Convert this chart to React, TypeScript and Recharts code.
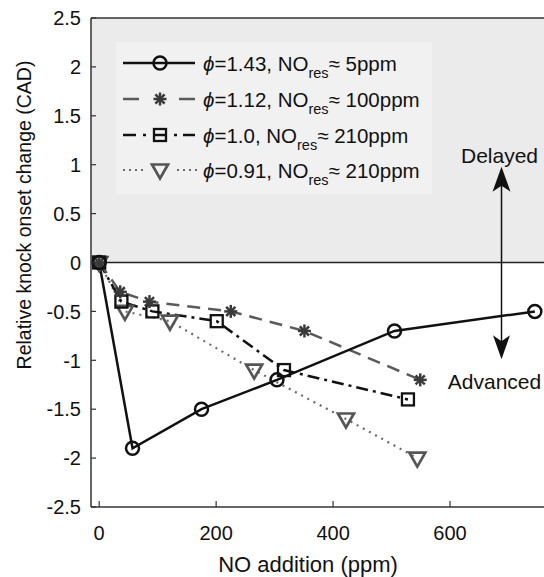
import React from 'react';
import {
  ComposedChart,
  Line,
  XAxis,
  YAxis,
  ReferenceArea,
  ReferenceLine,
  ReferenceDot,
  Legend,
} from 'recharts';

// ---------- data ----------
const s1X = [0, 57, 175, 304, 505, 745];
const s1Y = [0, -1.9, -1.5, -1.2, -0.7, -0.5];
const s2X = [0, 36, 86, 225, 351, 549];
const s2Y = [0, -0.3, -0.4, -0.5, -0.7, -1.2];
const s3X = [0, 38, 91, 201, 316, 528];
const s3Y = [0, -0.4, -0.5, -0.6, -1.1, -1.4];
const s4X = [0, 44, 121, 265, 422, 544];
const s4Y = [0, -0.5, -0.6, -1.1, -1.6, -2.0];

const seriesPhi = ['=1.43, NO', '=1.12, NO', '=1.0, NO', '=0.91, NO'];
const seriesRes = ['\u2248 5ppm', '\u2248 100ppm', '\u2248 210ppm', '\u2248 210ppm'];

const xTicks = [0, 200, 400, 600];
const yTicks = [-2.5, -2, -1.5, -1, -0.5, 0, 0.5, 1, 1.5, 2, 2.5];
const xDomain = [-14, 800];
const yDomain = [-2.5, 2.5];

const arrowX = 688;
const upTip = 0.98;
const upBase = 0.8;
const downTip = -0.99;
const downBase = -0.82;

const toPts = (xs: number[], ys: number[]) => xs.map((x, i) => ({ x, y: ys[i] }));
const d1 = toPts(s1X, s1Y);
const d2 = toPts(s2X, s2Y);
const d3 = toPts(s3X, s3Y);
const d4 = toPts(s4X, s4Y);

const FONT = '"Liberation Sans", Arial, Helvetica, sans-serif';
const C1 = '#111';
const C2 = '#5a5a5a';
const C2M = '#3a3a3a';
const C3 = '#111';
const C4 = '#6a6a6a';
const C4M = '#555';

// ---------- markers ----------
const circleMark = (cx: number, cy: number, key?: any) => (
  <circle key={key} cx={cx} cy={cy} r={6.5} fill="none" stroke={C1} strokeWidth={2.5} />
);
const starMark = (cx: number, cy: number, key?: any) => {
  const r = 6.5;
  const a = r * Math.SQRT1_2;
  return (
    <g key={key} stroke={C2M} strokeWidth={2.5}>
      <line x1={cx - r} y1={cy} x2={cx + r} y2={cy} />
      <line x1={cx} y1={cy - r} x2={cx} y2={cy + r} />
      <line x1={cx - a} y1={cy - a} x2={cx + a} y2={cy + a} />
      <line x1={cx - a} y1={cy + a} x2={cx + a} y2={cy - a} />
    </g>
  );
};
const squareMark = (cx: number, cy: number, key?: any) => (
  <rect key={key} x={cx - 6} y={cy - 6} width={12} height={12} fill="none" stroke={C3} strokeWidth={2.3} />
);
const triMark = (cx: number, cy: number, key?: any) => (
  <polygon
    key={key}
    points={`${cx - 8},${cy - 5.5} ${cx + 8},${cy - 5.5} ${cx},${cy + 8.5}`}
    fill="none"
    stroke={C4M}
    strokeWidth={2.7}
    strokeLinejoin="miter"
  />
);

const dotFn = (mk: (cx: number, cy: number, key?: any) => any) => (p: any) =>
  mk(p.cx, p.cy, `m-${p.index}`);

// ---------- ticks ----------
const XTick = (p: any) => {
  const { x, y, payload } = p;
  return (
    <g>
      <line x1={x} x2={x} y1={y} y2={y - 6} stroke="#333" strokeWidth={1.2} />
      <text x={x} y={y + 33} textAnchor="middle" fontSize={20} fontFamily={FONT} fill="#111">
        {payload.value}
      </text>
    </g>
  );
};
const YTick = (p: any) => {
  const { x, y, payload } = p;
  return (
    <g>
      <line x1={x} x2={x + 5} y1={y} y2={y} stroke="#333" strokeWidth={1.2} />
      <text x={x - 10} y={y} dy="0.36em" textAnchor="end" fontSize={20} fontFamily={FONT} fill="#111">
        {String(payload.value)}
      </text>
    </g>
  );
};

// ---------- legend ----------
const LegendBox = () => {
  const rows = [21, 57, 93, 128];
  const mx = 44;
  const tx = 87;
  const markers = [circleMark, starMark, squareMark, triMark];
  const lineParts = [
    <line key="l1" x1={7} x2={79} y1={rows[0]} y2={rows[0]} stroke={C1} strokeWidth={2.5} />,
    <g key="l2" stroke={C2} strokeWidth={2.5}>
      <line x1={7} x2={23} y1={rows[1]} y2={rows[1]} />
      <line x1={63} x2={79} y1={rows[1]} y2={rows[1]} />
    </g>,
    <g key="l3" stroke={C3} strokeWidth={2.5}>
      <line x1={7} x2={20} y1={rows[2]} y2={rows[2]} />
      <line x1={27} x2={30} y1={rows[2]} y2={rows[2]} />
      <line x1={58} x2={61} y1={rows[2]} y2={rows[2]} />
      <line x1={67} x2={79} y1={rows[2]} y2={rows[2]} />
      <line x1={38} x2={50} y1={rows[2]} y2={rows[2]} />
    </g>,
    <g key="l4" stroke={C4} strokeWidth={2}>
      {[8, 14, 20, 26, 62, 68, 74, 80].map((d) => (
        <line key={d} x1={d - 1} x2={d + 1} y1={rows[3]} y2={rows[3]} />
      ))}
    </g>,
  ];
  return (
    <svg width={316} height={152} style={{ display: 'block' }}>
      <rect x={0} y={0} width={316} height={152} fill="#f1f1f1" />
      {lineParts}
      {rows.map((ry, i) => markers[i](mx, ry, `lm${i}`))}
      {rows.map((ry, i) => (
        <text key={`t${i}`} x={tx} y={ry + 8} fontSize={20.5} fontFamily={FONT} fill="#111">
          <tspan fontStyle="italic">{'\u03D5'}</tspan>
          <tspan>{seriesPhi[i]}</tspan>
          <tspan fontSize={14.5} dy={7}>res</tspan>
          <tspan dy={-7}>{seriesRes[i]}</tspan>
        </text>
      ))}
    </svg>
  );
};

// ---------- arrows ----------
const upHead = (p: any) => {
  const { cx, cy } = p;
  return (
    <g>
      <polygon
        points={`${cx},${cy} ${cx + 9},${cy + 25} ${cx},${cy + 19} ${cx - 9},${cy + 25}`}
        fill="#111"
      />
      <text x={cx - 2} y={cy - 4} textAnchor="middle" fontSize={21} fontFamily={FONT} fill="#111">
        Delayed
      </text>
    </g>
  );
};
const downHead = (p: any) => {
  const { cx, cy } = p;
  return (
    <g>
      <polygon
        points={`${cx},${cy} ${cx + 8.5},${cy - 24} ${cx},${cy - 18} ${cx - 8.5},${cy - 24}`}
        fill="#111"
      />
      <text x={cx - 7} y={cy + 30} textAnchor="middle" fontSize={21} fontFamily={FONT} fill="#111">
        Advanced
      </text>
    </g>
  );
};

export default function App() {
  return (
    <div
      style={{
        position: 'absolute',
        left: 0,
        top: 0,
        width: 544,
        height: 577,
        overflow: 'hidden',
        background: '#fff',
      }}
    >
      <ComposedChart width={600} height={577} margin={{ top: 18, right: 33, left: 0, bottom: 30 }}>
        <XAxis
          type="number"
          dataKey="x"
          domain={xDomain}
          ticks={xTicks}
          allowDataOverflow
          height={40}
          tickSize={0}
          tickMargin={0}
          tickLine={false}
          axisLine={{ stroke: '#333', strokeWidth: 1.5 }}
          tick={XTick}
          label={{
            value: 'NO addition (ppm)',
            content: () => (
              <text x={308} y={572} textAnchor="middle" fontSize={22} fontFamily={FONT} fill="#111">
                NO addition (ppm)
              </text>
            ),
          }}
        />
        <YAxis
          type="number"
          dataKey="y"
          domain={yDomain}
          ticks={yTicks}
          allowDataOverflow
          width={91}
          tickSize={0}
          tickMargin={0}
          tickLine={false}
          axisLine={{ stroke: '#333', strokeWidth: 1.5 }}
          tick={YTick}
          label={{
            value: 'Relative knock onset change (CAD)',
            content: () => (
              <text
                x={0}
                y={0}
                transform="translate(31,215) rotate(-90)"
                textAnchor="middle"
                fontSize={19.5}
                fontFamily={FONT}
                fill="#111"
              >
                Relative knock onset change (CAD)
              </text>
            ),
          }}
        />
        <ReferenceArea
          x1={xDomain[0]}
          x2={xDomain[1]}
          y1={0}
          y2={yDomain[1]}
          fill="#ebebeb"
          fillOpacity={1}
          stroke="none"
        />
        <ReferenceLine y={yDomain[1]} stroke="#333" strokeWidth={1.5} />
        <ReferenceLine y={0} stroke="#222" strokeWidth={1.5} />
        <ReferenceLine
          segment={[
            { x: arrowX, y: 0 },
            { x: arrowX, y: upBase },
          ]}
          stroke="#111"
          strokeWidth={1.5}
        />
        <ReferenceLine
          segment={[
            { x: arrowX, y: 0 },
            { x: arrowX, y: downBase },
          ]}
          stroke="#111"
          strokeWidth={1.5}
        />
        <ReferenceDot x={arrowX} y={upTip} r={1} shape={upHead} />
        <ReferenceDot x={arrowX} y={downTip} r={1} shape={downHead} />
        <Line
          data={d4}
          dataKey="y"
          type="linear"
          stroke={C4}
          strokeWidth={2.2}
          strokeDasharray="2 5"
          dot={dotFn(triMark)}
          activeDot={false}
          isAnimationActive={false}
        />
        <Line
          data={d3}
          dataKey="y"
          type="linear"
          stroke={C3}
          strokeWidth={2.5}
          strokeDasharray="12 5 3 5"
          dot={dotFn(squareMark)}
          activeDot={false}
          isAnimationActive={false}
        />
        <Line
          data={d2}
          dataKey="y"
          type="linear"
          stroke={C2}
          strokeWidth={2.5}
          strokeDasharray="13 8"
          dot={dotFn(starMark)}
          activeDot={false}
          isAnimationActive={false}
        />
        <Line
          data={d1}
          dataKey="y"
          type="linear"
          stroke={C1}
          strokeWidth={2.5}
          dot={dotFn(circleMark)}
          activeDot={false}
          isAnimationActive={false}
        />
        <Legend
          layout="vertical"
          align="center"
          verticalAlign="middle"
          content={LegendBox}
          wrapperStyle={{ left: 116, top: 42, width: 316, height: 152 }}
        />
      </ComposedChart>
    </div>
  );
}
